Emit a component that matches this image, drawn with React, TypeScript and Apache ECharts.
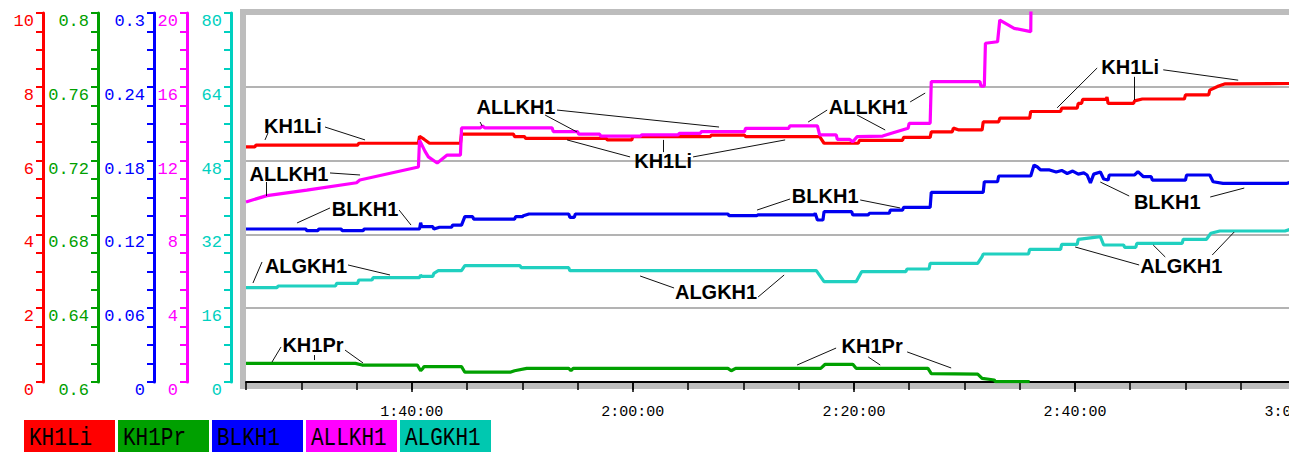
import React, { useEffect, useRef } from "react";
import * as echarts from "echarts";

// ---------- data (time in minutes since 0:00, values in each series' own units) ----------
const seriesNames = ["KH1Li", "KH1Pr", "BLKH1", "ALLKH1", "ALGKH1"];

const kh1Li: number[][] = [
  [85.0, 6.37], [85.8, 6.37], [85.9, 6.42], [95.1, 6.42], [95.2, 6.47], [100.6, 6.47], [100.7, 6.66],
  [101.1, 6.58], [101.6, 6.47], [104.4, 6.47], [104.5, 6.72], [109.2, 6.72], [109.3, 6.65], [110.2, 6.65],
  [110.3, 6.6], [117.6, 6.6], [117.7, 6.56], [119.9, 6.56], [120.0, 6.65], [127.0, 6.65], [127.1, 6.69],
  [130.1, 6.69], [130.2, 6.65], [136.9, 6.65], [137.3, 6.47], [140.4, 6.47], [140.5, 6.55], [144.4, 6.55],
  [144.5, 6.63], [146.9, 6.63], [147.0, 6.78], [148.9, 6.78], [149.0, 6.88], [149.5, 6.83], [151.6, 6.83],
  [151.7, 7.05], [153.1, 7.05], [153.2, 7.15], [155.9, 7.15], [156.0, 7.33], [158.7, 7.33], [158.8, 7.42],
  [160.2, 7.42], [160.3, 7.55], [160.6, 7.55], [160.7, 7.66], [162.8, 7.66], [162.9, 7.72], [163.0, 7.55],
  [165.3, 7.55], [165.4, 7.62], [166.1, 7.67], [169.9, 7.67], [170.0, 7.78], [172.1, 7.78], [172.2, 7.91],
  [173.0, 8.02], [173.6, 8.08], [179.6, 8.09],
];

const kh1Pr: number[][] = [
  [85.0, 0.6101], [94.9, 0.6101], [95.5, 0.6092], [100.5, 0.6092], [100.8, 0.6061], [101.0, 0.6074],
  [101.1, 0.6083], [104.5, 0.6083], [104.8, 0.6053], [108.9, 0.6053], [109.3, 0.6061], [110.4, 0.6074],
  [114.2, 0.6074], [114.4, 0.6061], [114.6, 0.6074], [128.6, 0.6074], [128.9, 0.6061], [129.3, 0.6074],
  [137.0, 0.6074], [137.4, 0.6096], [139.9, 0.6096], [140.2, 0.6074], [146.7, 0.6074], [147.0, 0.6045],
  [151.2, 0.6043], [151.6, 0.602], [152.7, 0.6011], [152.8, 0.6002], [155.9, 0.6002],
];

const blkh1: number[][] = [
  [85.0, 0.1244], [90.4, 0.1244], [90.5, 0.123], [91.5, 0.123], [91.6, 0.1244], [93.6, 0.1244],
  [93.7, 0.123], [95.6, 0.123], [95.7, 0.1244], [100.7, 0.1244], [100.8, 0.1295], [100.9, 0.1263],
  [101.9, 0.1263], [102.0, 0.1244], [102.5, 0.1258], [103.6, 0.1258], [103.7, 0.1276], [104.5, 0.1276],
  [104.8, 0.1344], [105.5, 0.1344], [105.6, 0.1325], [109.3, 0.1325], [109.4, 0.1344], [110.0, 0.1344],
  [110.1, 0.1352], [110.6, 0.1366], [114.2, 0.1366], [114.3, 0.1339], [114.7, 0.1339], [114.8, 0.1366],
  [128.6, 0.1366], [128.7, 0.1352], [131.2, 0.1352], [131.3, 0.1358], [136.4, 0.1358], [136.5, 0.1372],
  [136.7, 0.1317], [137.2, 0.1317], [137.3, 0.1385], [139.8, 0.1385], [139.9, 0.1358], [141.3, 0.1358],
  [141.4, 0.1372], [143.2, 0.1372], [143.3, 0.1398], [144.4, 0.1398], [144.5, 0.142], [146.9, 0.142],
  [147.0, 0.1542], [151.7, 0.1542], [151.8, 0.1628], [153.0, 0.1628], [153.1, 0.1675], [156.0, 0.1675],
  [156.3, 0.1764], [156.6, 0.1748], [156.9, 0.1724], [157.7, 0.1724], [158.3, 0.1707], [158.8, 0.172],
  [159.3, 0.1695], [159.8, 0.1715], [160.3, 0.169], [160.8, 0.17], [161.1, 0.1683], [161.4, 0.1618],
  [161.7, 0.169], [162.3, 0.1707], [162.6, 0.165], [163.0, 0.1642], [163.1, 0.1683], [165.4, 0.1683],
  [165.7, 0.171], [166.2, 0.1669], [166.9, 0.1669], [167.0, 0.1642], [170.0, 0.1642], [170.1, 0.1683],
  [172.2, 0.1683], [172.5, 0.1628], [173.4, 0.1615], [179.2, 0.1615], [179.6, 0.1628],
];

const allkh1: number[][] = [
  [85.0, 9.76], [86.9, 10.1], [90.5, 10.4], [95.0, 10.8], [95.3, 10.95], [100.6, 11.65], [100.7, 13.1],
  [101.2, 12.5], [101.5, 12.2], [102.3, 11.87], [103.2, 12.3], [104.4, 12.3], [104.5, 13.77], [106.2, 13.77],
  [106.4, 13.88], [106.6, 13.77], [112.7, 13.77], [112.8, 13.57], [115.0, 13.57], [115.1, 13.43],
  [117.0, 13.43], [117.1, 13.33], [120.7, 13.33], [120.8, 13.39], [124.1, 13.39], [124.2, 13.48],
  [126.1, 13.48], [126.2, 13.57], [130.1, 13.57], [130.2, 13.75], [134.1, 13.75], [134.2, 13.88],
  [136.7, 13.88], [136.9, 13.39], [138.4, 13.39], [138.5, 13.15], [139.6, 13.15], [139.9, 13.02],
  [140.3, 13.3], [142.6, 13.33], [143.4, 13.48], [144.9, 13.75], [145.0, 14.02], [146.9, 14.02],
  [147.0, 16.28], [151.4, 16.28], [151.5, 16.04], [151.8, 16.04], [151.9, 18.36], [153.0, 18.44],
  [153.2, 19.62], [154.5, 19.17], [156.0, 18.99], [156.05, 22.0],
];

const algkh1: number[][] = [
  [85.0, 20.44], [87.8, 20.44], [87.9, 20.81], [93.1, 20.81], [93.2, 21.4], [95.1, 21.4], [95.2, 22.11],
  [96.4, 22.11], [96.5, 22.61], [100.7, 22.61], [100.8, 23.2], [100.9, 22.9], [101.9, 22.9], [102.0, 23.57],
  [102.4, 24.13], [104.5, 24.13], [104.8, 25.21], [109.8, 25.21], [109.9, 24.78], [114.2, 24.78],
  [114.3, 24.13], [136.6, 24.13], [137.3, 21.75], [140.2, 21.75], [140.7, 23.91], [144.7, 23.91],
  [144.8, 24.5], [146.8, 24.5], [146.9, 25.73], [151.2, 25.73], [151.6, 27.16], [151.7, 27.75],
  [155.8, 27.75], [155.9, 28.77], [158.7, 28.77], [158.8, 29.85], [160.2, 29.85], [160.3, 30.94],
  [162.3, 31.5], [162.6, 29.7], [164.4, 29.7], [164.5, 29.2], [165.5, 29.2], [165.6, 30.07],
  [169.7, 30.07], [169.8, 30.94], [171.9, 30.94], [172.3, 32.24], [173.1, 32.74], [179.0, 32.74],
  [179.5, 33.1],
];

const seriesData = [kh1Li, kh1Pr, blkh1, allkh1, algkh1];

// value axes (one per series)
const axisMin = [0, 0.6, 0, 0, 0];
const axisMax = [10, 0.8, 0.3, 20, 80];
const axisInterval = [2, 0.04, 0.06, 4, 16];

// time axis (minutes)
const timeMin = 85;
const timeMax = 180;
const timeMinorTicks = [85, 90, 95, 100, 105, 110, 115, 120, 125, 130, 135, 140, 145, 150, 155, 160, 165, 170, 175, 180];
const timeLabelTicks = [100, 120, 140, 160, 180];

// callout annotations: text anchor and leader lines, in the series' own data units
const annotations = [
  { s: 0, text: "KH1Li", at: [89.25, 6.94], leaders: [[86.72, 6.56, 86.99, 6.75], [92.15, 6.91, 95.77, 6.56]] },
  { s: 3, text: "ALLKH1", at: [88.89, 11.27], leaders: [[92.6, 11.33, 95.32, 11.22], [86.81, 10.84, 86.81, 10.08]] },
  { s: 3, text: "ALLKH1", at: [109.43, 14.9], leaders: [[106.18, 14.09, 106.36, 13.88], [113.14, 14.74, 127.8, 13.82], [112.06, 14.47, 114.95, 13.55]] },
  { s: 0, text: "KH1Li", at: [122.74, 5.99], leaders: [[119.75, 6.1, 114.05, 6.56], [125.45, 6.1, 133.78, 6.56], [122.74, 6.23, 122.74, 6.56]] },
  { s: 3, text: "ALLKH1", at: [141.29, 14.9], leaders: [[137.58, 14.74, 135.86, 14.09], [145.09, 15.18, 146.45, 15.66], [140.29, 14.47, 142.83, 13.66]] },
  { s: 0, text: "KH1Li", at: [165.0, 8.54], leaders: [[162.01, 8.51, 158.39, 7.43], [165.36, 8.27, 165.36, 7.64], [167.99, 8.46, 174.77, 8.18]] },
  { s: 2, text: "BLKH1", at: [95.77, 0.1407], leaders: [[92.6, 0.1415, 89.62, 0.1293], [98.85, 0.1398, 99.93, 0.1276]] },
  { s: 2, text: "BLKH1", at: [137.4, 0.1512], leaders: [[134.23, 0.1488, 131.24, 0.1398], [140.57, 0.148, 144.19, 0.1415]] },
  { s: 2, text: "BLKH1", at: [168.35, 0.1463], leaders: [[164.91, 0.1512, 162.29, 0.1626], [172.24, 0.1504, 175.32, 0.1577]] },
  { s: 4, text: "ALGKH1", at: [90.43, 25.15], leaders: [[86.45, 26.02, 85.63, 21.46], [94.23, 25.37, 98.03, 23.2]] },
  { s: 4, text: "ALGKH1", at: [127.53, 19.51], leaders: [[123.73, 20.38, 120.66, 22.98], [131.33, 18.43, 133.69, 23.2]] },
  { s: 4, text: "ALGKH1", at: [169.62, 25.15], leaders: [[165.81, 25.37, 160.02, 29.27], [168.17, 27.1, 167.08, 29.7], [172.42, 27.53, 174.41, 32.52]] },
  { s: 1, text: "KH1Pr", at: [91.06, 0.62], leaders: [[88.17, 0.619, 87.35, 0.6108], [91.15, 0.6146, 91.15, 0.6119], [93.96, 0.6173, 95.59, 0.6103]] },
  { s: 1, text: "KH1Pr", at: [141.65, 0.6195], leaders: [[138.39, 0.6184, 134.86, 0.6092], [141.29, 0.6136, 142.38, 0.6092], [144.82, 0.6163, 148.8, 0.6076]] },
];

// ---------- styling / layout ----------
const lineColors = ["#ff0000", "#00a000", "#0000f0", "#ff00ff", "#20d0c0"];
const axisColors = ["#ff0000", "#00a000", "#0000ff", "#ff00ff", "#00d0c0"];
const legendColors = ["#ff0000", "#00a000", "#0000ff", "#ff00ff", "#00c8b0"];
const axisOffsets = [203, 148, 92, 59, 15];

const fmtTime = (v: number) => {
  const h = Math.floor(v / 60);
  const m = Math.round(v - h * 60);
  return `${h}:${String(m).padStart(2, "0")}:00`;
};

function buildOption() {
  const yAxes: any[] = seriesNames.map((_, i) => ({
    type: "value",
    gridIndex: 0,
    position: "left",
    offset: axisOffsets[i],
    min: axisMin[i],
    max: axisMax[i],
    interval: axisInterval[i],
    axisLine: { show: true, lineStyle: { color: axisColors[i], width: 3 } },
    axisTick: { show: true, length: 7, lineStyle: { color: axisColors[i], width: 2 } },
    minorTick: { show: true, splitNumber: 4, length: 7, lineStyle: { color: axisColors[i], width: 2 } },
    axisLabel: {
      color: axisColors[i],
      fontFamily: "Liberation Mono",
      fontSize: 17,
      margin: 9,
      verticalAlign: "top",
    },
    splitLine:
      i === 0
        ? { show: true, showMinLine: false, showMaxLine: false, lineStyle: { color: "#9a9a9a", width: 1.5 } }
        : { show: false },
    minorSplitLine: { show: false },
  }));
  yAxes.push({ type: "value", gridIndex: 1, show: false, min: 0, max: 1 });

  const series: any[] = seriesData.map((d, i) => {
    const anns = annotations.filter((a) => a.s === i);
    return {
      type: "line",
      name: seriesNames[i],
      xAxisIndex: 0,
      yAxisIndex: i,
      data: d,
      showSymbol: false,
      symbol: "none",
      clip: true,
      silent: true,
      lineStyle: { color: lineColors[i], width: 3.2 },
      itemStyle: { color: lineColors[i] },
      markPoint: {
        silent: true,
        symbol: "circle",
        symbolSize: 1,
        itemStyle: { color: "rgba(0,0,0,0)" },
        label: {
          show: true,
          position: "inside",
          color: "#000",
          fontFamily: "Liberation Sans",
          fontWeight: "bold",
          fontSize: 20,
          formatter: (p: any) => p.name,
        },
        data: anns.map((a) => ({ name: a.text, coord: a.at })),
      },
      markLine: {
        silent: true,
        symbol: ["none", "none"],
        label: { show: false },
        lineStyle: { color: "#111", width: 1, type: "solid" },
        data: anns.flatMap((a) =>
          a.leaders.map((l) => [{ coord: [l[0], l[1]] }, { coord: [l[2], l[3]] }])
        ),
      },
    };
  });

  const graphic: any[] = [];
  seriesNames.forEach((n, i) => {
    graphic.push({
      type: "rect",
      shape: { x: 24 + i * 94, y: 420, width: 91, height: 40 },
      style: { fill: legendColors[i] },
    });
    graphic.push({
      type: "text",
      x: 29 + i * 94,
      y: 438,
      scaleY: 1.2,
      style: {
        text: n,
        fill: "#000",
        font: '21px "Liberation Mono"',
        verticalAlign: "middle",
        textVerticalAlign: "middle",
      },
    });
  });

  return {
    animation: false,
    backgroundColor: "#ffffff",
    grid: [
      { left: 246, top: 13, width: 1050, height: 369, show: false, containLabel: false, outerBoundsMode: "none" },
      {
        left: 243, top: 12, width: 1100, height: 374, show: true, borderColor: "#bdbdbd", borderWidth: 6,
        backgroundColor: "transparent", containLabel: false, outerBoundsMode: "none",
      },
    ],
    xAxis: [
      {
        type: "value",
        gridIndex: 0,
        position: "bottom",
        offset: 14,
        min: timeMin,
        max: timeMax,
        axisLine: { show: true, lineStyle: { color: "#000", width: 2 } },
        axisTick: { show: true, length: 8, customValues: timeMinorTicks, lineStyle: { color: "#000", width: 1.5 } },
        axisLabel: { show: false },
        splitLine: { show: false },
      },
      {
        type: "value",
        gridIndex: 0,
        position: "bottom",
        offset: 14,
        min: timeMin,
        max: timeMax,
        axisLine: { show: false },
        axisTick: { show: true, length: 10, customValues: timeLabelTicks, lineStyle: { color: "#000", width: 1.5 } },
        axisLabel: {
          show: true,
          customValues: timeLabelTicks,
          formatter: fmtTime,
          color: "#000",
          fontFamily: "Liberation Mono",
          fontSize: 15,
          margin: 9,
          hideOverlap: false,
        },
        splitLine: { show: false },
      },
      { type: "value", gridIndex: 1, show: false, min: 0, max: 1 },
    ],
    yAxis: yAxes,
    series,
    graphic,
  };
}

export default function App() {
  const ref = useRef<HTMLDivElement>(null);
  useEffect(() => {
    if (!ref.current) return;
    const chart = echarts.init(ref.current, null, { renderer: "svg", width: 1289, height: 452 });
    chart.setOption(buildOption() as any);
    return () => chart.dispose();
  }, []);
  return (
    <div style={{ position: "fixed", left: 0, top: 0, width: 1303, height: 452, background: "#fff", overflow: "hidden" }}>
      <div ref={ref} style={{ width: 1289, height: 452, overflow: "hidden" }} />
    </div>
  );
}
